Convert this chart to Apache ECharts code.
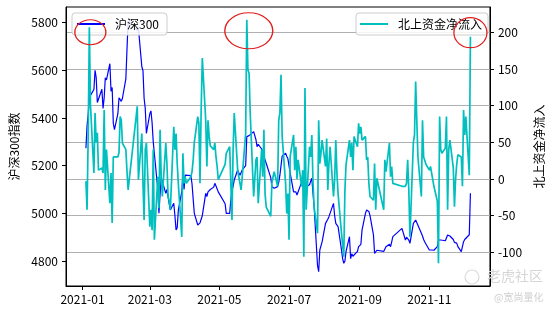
<!DOCTYPE html>
<html>
<head>
<meta charset="utf-8">
<script src="https://cdn.jsdelivr.net/npm/echarts@6/dist/echarts.min.js"></script>
<style>
  html, body { margin: 0; padding: 0; background: #fff; }
  #chart { width: 553px; height: 310px; }
</style>
</head>
<body>
<div id="chart"></div>
<script>
// ---- categories: trading days of 2021 (month-day) ----
const tradeDates = [
  '1-4','1-5','1-6','1-7','1-8','1-11','1-12','1-13','1-14','1-15','1-18','1-19','1-20','1-21','1-22','1-25','1-26','1-27','1-28','1-29',
  '2-1','2-2','2-3','2-4','2-5','2-8','2-9','2-10','2-18','2-19','2-22','2-23','2-24','2-25','2-26',
  '3-1','3-2','3-3','3-4','3-5','3-8','3-9','3-10','3-11','3-12','3-15','3-16','3-17','3-18','3-19','3-22','3-23','3-24','3-25','3-26','3-29','3-30','3-31',
  '4-1','4-2','4-6','4-7','4-8','4-9','4-12','4-13','4-14','4-15','4-16','4-19','4-20','4-21','4-22','4-23','4-26','4-27','4-28','4-29','4-30',
  '5-6','5-7','5-10','5-11','5-12','5-13','5-14','5-17','5-18','5-19','5-20','5-21','5-24','5-25','5-26','5-27','5-28','5-31',
  '6-1','6-2','6-3','6-4','6-7','6-8','6-9','6-10','6-11','6-15','6-16','6-17','6-18','6-21','6-22','6-23','6-24','6-25','6-28','6-29','6-30',
  '7-1','7-2','7-5','7-6','7-7','7-8','7-9','7-12','7-13','7-14','7-15','7-16','7-19','7-20','7-21','7-22','7-23','7-26','7-27','7-28','7-29','7-30',
  '8-2','8-3','8-4','8-5','8-6','8-9','8-10','8-11','8-12','8-13','8-16','8-17','8-18','8-19','8-20','8-23','8-24','8-25','8-26','8-27','8-30','8-31',
  '9-1','9-2','9-3','9-6','9-7','9-8','9-9','9-10','9-13','9-14','9-15','9-16','9-17','9-22','9-23','9-24','9-27','9-28','9-29','9-30',
  '10-8','10-11','10-12','10-13','10-14','10-15','10-18','10-19','10-20','10-21','10-22','10-25','10-26','10-27','10-28','10-29',
  '11-1','11-2','11-3','11-4','11-5','11-8','11-9','11-10','11-11','11-12','11-15','11-16','11-17','11-18','11-19','11-22','11-23','11-24','11-25','11-26','11-29','11-30',
  '12-1','12-2','12-3','12-6','12-7'
];

// ---- series 1: 沪深300 index (left axis) ----
const hs300 = [
  5273,5368,5417,5479,5495,5520,5600,5570,5465,5458,5521,5440,5485,5569,5560,5628,5512,5528,5378,5351,
  5418,5485,5486,5470,5483,5564,5689,5807,5768,5779,5615,5600,5483,5440,5336,
  5418,5430,5380,5300,5250,5100,5000,5080,5150,5147,5084,5100,5070,5040,5014,5042,4990,4930,4940,5014,5090,5160,5100,
  5160,5161,5158,5123,5060,5000,4951,4944,4960,4975,4990,5084,5070,5090,5098,5100,5110,5126,5115,5110,5090,
  5040,5000,5000,5056,5098,5112,5140,5182,5170,5160,5165,5182,5200,5322,5330,5326,5330,5343,
  5340,5310,5280,5290,5270,5250,5238,5240,5210,5150,5112,5110,5105,5112,5130,5160,5200,5240,5252,5240,5230,
  5230,5170,5090,5098,5090,5077,5085,5130,5140,5120,5125,5112,5120,5135,5147,5084,5030,4780,4755,4846,4840,4880,
  4958,4950,4975,4986,4990,5042,4990,4958,4950,4944,4846,4810,4790,4800,4840,4902,4810,4830,4820,4825,4840,4860,
  4860,4870,4930,5000,5014,5010,5008,4990,4910,4832,4840,4845,4850,4840,4850,4860,4870,4860,4880,4902,
  4937,4888,4900,4895,4888,4874,4958,4965,4972,4968,4950,4916,4905,4890,4880,4885,
  4846,4840,4846,4850,4845,4860,4888,4880,4888,4885,4885,4890,4909,4912,4905,4890,4878,4880,4875,4860,4839,4845,
  4881,4890,4895,4910,5084
];

// ---- series 2: 北上资金净流入 (right axis) ----
const northFlow = [
  -3,-42,60,207,100,8,90,50,63,12,15,8,94,-15,40,-33,8,-60,30,32,
  30,36,85,80,49,40,10,-15,99,-1,62,-5,-56,40,49,
  -65,-42,-70,40,-83,3,-40,67,3,-24,49,21,-24,-30,-42,71,40,62,21,-6,-79,35,-6,
  3,-6,3,10,26,50,85,76,-6,94,165,80,17,80,58,45,40,49,30,17,-1,
  20,35,44,-6,-56,40,90,12,3,5,-15,3,62,217,149,144,90,-24,
  0,26,30,-33,40,3,67,-20,-38,-51,-6,3,10,-10,80,90,142,58,-6,-47,-20,
  -83,30,60,12,44,0,26,-10,12,-106,124,-42,44,30,60,-2,-38,-74,80,21,35,53,
  17,55,-15,21,44,-24,-1,53,8,-20,-74,-90,-106,-15,20,53,30,49,12,58,44,76,
  62,71,53,58,26,30,-6,-24,-29,21,-42,1,1,-42,26,10,49,3,17,-6,
  -10,-10,-6,26,-15,-79,50,60,133,80,30,-24,80,30,25,20,
  12,17,8,-1,-10,-30,-115,85,40,35,42,85,-42,40,53,15,-38,0,20,33,30,-10,
  94,60,85,5,194
];

// ---- tick labels ----
const xTickMonths = ['2021-01','2021-03','2021-05','2021-07','2021-09','2021-11'];
const leftTicks = [4800, 5000, 5200, 5400, 5600, 5800];
const rightTicks = [-100, -50, 0, 50, 100, 150, 200];

// ---- highlighted (circled) days on 北上资金 series ----
const circledDates = ['1-7', '5-25', '12-7'];

const YEAR = 2021;
function toTime(md) {
  const p = md.split('-').map(Number);
  return new Date(YEAR, p[0] - 1, p[1]).getTime();
}
const times = tradeDates.map(toTime);
const hsData = times.map((t, i) => [t, hs300[i]]);
const nfData = times.map((t, i) => [t, northFlow[i]]);
const xTicks = xTickMonths.map(s => { const p = s.split('-').map(Number); return new Date(p[0], p[1] - 1, 1).getTime(); });

const FONT = '"Noto Sans CJK SC", "Noto Sans", sans-serif';
const ellipsePath = 'path://M0,10 A10,10 0 1,1 20,10 A10,10 0 1,1 0,10 Z';
const circleSizes = [[31, 25], [48, 36], [33, 30]];
const circleOffsets = [[1, 5], [2, 11], [0, -4]];

const chart = echarts.init(document.getElementById('chart'), null, { renderer: 'canvas' });

const option = {
  animation: false,
  backgroundColor: '#fff',
  textStyle: { fontFamily: FONT },
  grid: {
    left: 66, right: 59, top: 7, bottom: 24,
    show: true, borderColor: '#000', borderWidth: 1, backgroundColor: 'transparent'
  },
  legend: [
    {
      data: ['沪深300'], left: 72, top: 13, zlevel: 1, z: 2,
      icon: 'rect', itemWidth: 28, itemHeight: 2, itemGap: 0,
      padding: [5, 8, 5, 5],
      backgroundColor: 'rgba(255,255,255,0.85)', borderColor: '#cccccc', borderWidth: 1, borderRadius: 3,
      textStyle: { fontSize: 12, color: '#000', fontFamily: FONT, padding: [0, 0, 0, 5] }
    },
    {
      data: ['北上资金净流入'], right: 65, top: 13, zlevel: 3, z: 4,
      icon: 'rect', itemWidth: 28, itemHeight: 2, itemGap: 0,
      padding: [5, 6, 5, 4],
      backgroundColor: 'rgba(255,255,255,0.85)', borderColor: '#cccccc', borderWidth: 1, borderRadius: 3,
      textStyle: { fontSize: 12, color: '#000', fontFamily: FONT, padding: [0, 0, 0, 5] }
    }
  ],
  xAxis: {
    type: 'value',
    min: new Date(2020, 11, 17, 13).getTime(),
    max: new Date(2021, 11, 24, 3).getTime(),
    axisLine: { show: true, onZero: false, lineStyle: { color: '#000', width: 1 } },
    axisTick: { show: true, length: 4, lineStyle: { color: '#000' }, customValues: xTicks },
    axisLabel: {
      customValues: xTicks, fontSize: 12, color: '#000', fontFamily: FONT, margin: 7,
      formatter: function (v) {
        const d = new Date(v);
        return d.getFullYear() + '-' + String(d.getMonth() + 1).padStart(2, '0');
      }
    },
    splitLine: { show: false }
  },
  yAxis: [
    {
      type: 'value', position: 'left', min: 4695, max: 5866,
      name: '沪深300指数', nameLocation: 'middle', nameGap: 38, nameRotate: 90,
      nameTextStyle: { fontSize: 12, color: '#000', fontFamily: FONT },
      axisLine: { show: true, lineStyle: { color: '#000' } },
      axisTick: { show: true, length: 4, lineStyle: { color: '#000' }, customValues: leftTicks },
      axisLabel: { customValues: leftTicks, fontSize: 12, color: '#000', fontFamily: FONT, margin: 8,
        formatter: function (v) { return String(v); } },
      splitLine: { show: false }
    },
    {
      type: 'value', position: 'right', min: -146, max: 234.5,
      name: '北上资金净流入', nameLocation: 'middle', nameGap: 36, nameRotate: 90,
      nameTextStyle: { fontSize: 12, color: '#000', fontFamily: FONT },
      axisLine: { show: true, lineStyle: { color: '#000' } },
      axisTick: { show: true, length: 4, lineStyle: { color: '#000' }, customValues: rightTicks },
      axisLabel: { customValues: rightTicks, fontSize: 12, color: '#000', fontFamily: FONT, margin: 8,
        formatter: function (v) { return String(v); } },
      splitLine: { show: true, lineStyle: { color: '#b0b0b0', width: 1 } }
    }
  ],
  series: [
    {
      name: '沪深300', type: 'line', yAxisIndex: 0, zlevel: 0, z: 1,
      data: hsData, showSymbol: false, symbol: 'none',
      color: '#0000ff',
      lineStyle: { color: '#0000ff', width: 1.2 }
    },
    {
      name: '北上资金净流入', type: 'line', yAxisIndex: 1, zlevel: 2, z: 3,
      data: nfData, showSymbol: false, symbol: 'none',
      color: '#00bfbf',
      lineStyle: { color: '#00bfbf', width: 1.7 },
      markPoint: {
        zlevel: 4, z: 5,
        silent: true,
        symbol: ellipsePath,
        symbolKeepAspect: false,
        label: { show: false },
        itemStyle: { color: 'rgba(0,0,0,0)', borderColor: '#e01e1e', borderWidth: 1.2 },
        data: circledDates.map((md, k) => {
          const i = tradeDates.indexOf(md);
          return { coord: [times[i], northFlow[i]], symbolSize: circleSizes[k], symbolOffset: circleOffsets[k] };
        })
      }
    }
  ],
  graphic: [
    { type: 'circle', zlevel: 4, shape: { cx: 472, cy: 277, r: 7 }, style: { fill: 'none', stroke: '#dadada', lineWidth: 1.2 } },
    { type: 'text', zlevel: 4, left: 487, top: 269, style: { text: '老虎社区', fill: '#d6d6d6', font: '14px "Noto Sans CJK SC"' } },
    { type: 'text', zlevel: 4, left: 494, top: 292, style: { text: '@宽尚量化', fill: '#d0d0d0', font: '10px "Noto Sans CJK SC"' } }
  ]
};
chart.setOption(option);
</script>
</body>
</html>
